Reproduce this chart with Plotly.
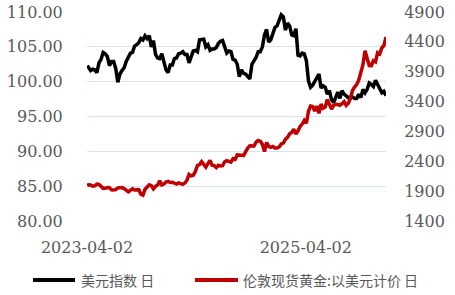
import plotly.graph_objects as go
import pandas as pd

dates = pd.date_range("2023-04-07", "2025-12-26", freq="W-FRI").strftime("%Y-%m-%d").tolist()
dates = ["2023-04-03"] + dates

dxy = [
    102.3,
    # 2023
    102.1, 101.6, 101.8, 101.7, 101.3, 102.7, 103.2, 104.2, 104.0, 103.6, 102.3, 102.9, 102.9,
    101.9, 99.9, 101.1, 101.6, 102.0, 102.9, 103.4, 104.1, 104.2, 105.1, 105.3, 105.6, 106.2,
    106.0, 106.6, 106.2, 106.6, 105.0, 105.9, 103.9, 103.4, 103.3, 104.0, 102.6, 101.7, 101.3,
    # 2024
    102.4, 102.4, 103.3, 103.4, 104.0, 104.1, 104.3, 103.9, 103.9, 102.7, 103.4, 104.4, 104.5,
    104.3, 106.0, 106.1, 106.1, 105.0, 105.3, 104.5, 104.7, 104.7, 104.9, 105.5, 105.8, 105.9,
    104.9, 104.1, 104.4, 104.3, 103.2, 103.1, 102.5, 100.7, 101.7, 101.2, 101.1, 100.7, 100.4,
    102.5, 102.9, 103.5, 104.3, 104.3, 105.0, 106.7, 107.5, 105.7, 106.0, 107.0, 107.8, 108.0,
    # 2025
    109.0, 109.6, 109.3, 107.4, 108.4, 108.0, 106.7, 106.6, 107.6, 103.8, 103.7, 104.1, 104.0,
    103.0, 100.1, 99.2, 99.5, 100.0, 100.4, 101.1, 99.1, 99.4, 99.2, 98.2, 98.7, 97.4,
    97.0, 97.9, 98.5, 97.6, 98.7, 98.2, 97.9, 97.7, 97.8, 97.8, 97.6, 97.6, 98.2,
    97.7, 98.9, 98.4, 98.9, 99.8, 99.6, 99.3, 100.2, 99.5, 99.0, 98.4, 98.6, 98.0,
]

gold = [
    1985,
    # 2023
    2007, 2004, 1983, 1990, 2017, 2011, 1978, 1946, 1948, 1961, 1958, 1921, 1919,
    1925, 1955, 1962, 1959, 1943, 1914, 1889, 1915, 1940, 1919, 1924, 1925, 1849,
    1833, 1932, 1981, 2006, 1992, 1940, 1981, 2001, 2072, 2004, 2019, 2053, 2063,
    # 2024
    2045, 2049, 2029, 2018, 2039, 2024, 2013, 2036, 2083, 2179, 2155, 2166, 2230,
    2330, 2344, 2392, 2337, 2302, 2360, 2415, 2334, 2327, 2294, 2333, 2322, 2326,
    2392, 2411, 2400, 2387, 2443, 2431, 2507, 2512, 2503, 2497, 2577, 2622, 2658,
    2653, 2656, 2721, 2747, 2736, 2685, 2563, 2715, 2650, 2633, 2648, 2622, 2621,
    # 2025
    2640, 2690, 2703, 2771, 2800, 2861, 2883, 2936, 2858, 2910, 2984, 3023, 3085,
    3037, 3237, 3327, 3319, 3241, 3325, 3204, 3357, 3289, 3310, 3433, 3368, 3274,
    3337, 3355, 3350, 3337, 3363, 3398, 3336, 3371, 3448, 3586, 3643, 3685, 3760,
    3886, 4018, 4252, 4113, 4002, 4000, 4084, 4065, 4218, 4198, 4300, 4338, 4480,
]

left_ticks = [80, 85, 90, 95, 100, 105, 110]
right_ticks = [1400, 1900, 2400, 2900, 3400, 3900, 4400, 4900]
x_ticks = ["2023-04-02", "2025-04-02"]

names = ["美元指数 日", "伦敦现货黄金:以美元计价 日"]
colors = ["#000000", "#C00000"]

n = min(len(dates), len(dxy), len(gold))
dates, dxy, gold = dates[:n], dxy[:n], gold[:n]

fig = go.Figure()
fig.add_trace(go.Scatter(x=dates, y=dxy, mode="lines", name=names[0],
                         line=dict(color=colors[0], width=3.5)))
fig.add_trace(go.Scatter(x=dates, y=gold, mode="lines", name=names[1], yaxis="y2",
                         line=dict(color=colors[1], width=3.5)))

tickfont = dict(family="DejaVu Serif", size=16, color="#595959")
grid = "#D6E4F5"
clear = "rgba(0,0,0,0)"

# plot area in pixels: left 87, right 386, top 12, bottom 221
L, R, T, B = 87, 386, 12, 221
def px(x):
    return (x - L) / (R - L)
def py(y):
    return (B - y) / (B - T)

# legend drawn as line samples + text
leg_y = 280
leg_items = [(33, 75, 80), (195, 238, 242)]
shapes, annotations = [], []
for (x0, x1, tx), name, col in zip(leg_items, names, colors):
    shapes.append(dict(type="line", xref="paper", yref="paper",
                       x0=px(x0), x1=px(x1), y0=py(leg_y), y1=py(leg_y),
                       line=dict(color=col, width=4)))
    annotations.append(dict(text=name, xref="paper", yref="paper",
                            x=px(tx), y=py(leg_y), xanchor="left", yanchor="middle",
                            showarrow=False, borderpad=0,
                            font=dict(family="Noto Sans CJK SC", size=14, color="#595959")))

fig.update_layout(
    width=455, height=295,
    margin=dict(l=L, r=455 - R, t=T, b=295 - B, autoexpand=False),
    paper_bgcolor="white", plot_bgcolor="white",
    xaxis=dict(range=["2023-04-02", dates[-1]], tickvals=x_ticks, ticktext=x_ticks,
               showgrid=False, zeroline=False, showline=False,
               ticks="outside", ticklen=12, tickcolor=clear,
               tickfont=tickfont),
    yaxis=dict(range=[80, 110], tickvals=left_ticks, tickformat=".2f",
               showgrid=True, gridcolor=grid, gridwidth=1, zeroline=False,
               showline=False, ticks="outside", ticklen=20, tickcolor=clear,
               tickfont=tickfont),
    yaxis2=dict(range=[1400, 4900], tickvals=right_ticks, overlaying="y", side="right",
                showgrid=False, zeroline=False, showline=False,
                ticks="outside", ticklen=14, tickcolor=clear,
                tickfont=tickfont),
    showlegend=False,
    shapes=shapes,
    annotations=annotations,
)

fig.write_html("out.html")
